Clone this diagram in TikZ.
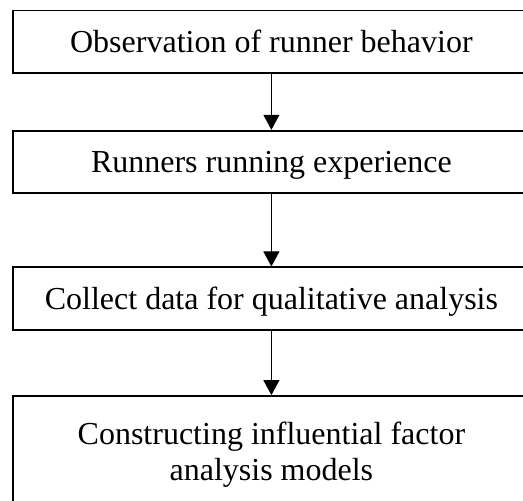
\documentclass[tikz,border=0pt]{standalone}
\usepackage{fontspec}
\setmainfont{Liberation Serif}
\usetikzlibrary{arrows.meta}
\begin{document}
\begin{tikzpicture}[x=1pt,y=1pt,
  stepbox/.style={draw=black, line width=1.8pt, minimum width=517pt, inner sep=0pt,
    font=\fontsize{32}{36}\selectfont, text height=22pt, text depth=0pt, align=center},
  flow/.style={line width=1pt, -{Triangle[width=16pt,length=15pt]}}]
\useasboundingbox (0,0) rectangle (523,501);
\clip (0,0) rectangle (523,501);
\node[stepbox, minimum height=62.5pt] (b1) at (271.4,459.25) {Observation of runner behavior};
\node[stepbox, minimum height=62.6pt] (b2) at (271.4,339) {Runners running experience};
\node[stepbox, minimum height=62.7pt] (b3) at (271.4,202.3) {Collect data for qualitative analysis};
\node[stepbox, minimum height=116.5pt, text height=, text depth=] (b4) at (271.4,46.75) {Constructing influential factor\\analysis models};
\draw[flow] (b1.south) -- (b2.north);
\draw[flow] (b2.south) -- (b3.north);
\draw[flow] (b3.south) -- (b4.north);
\end{tikzpicture}
\end{document}
